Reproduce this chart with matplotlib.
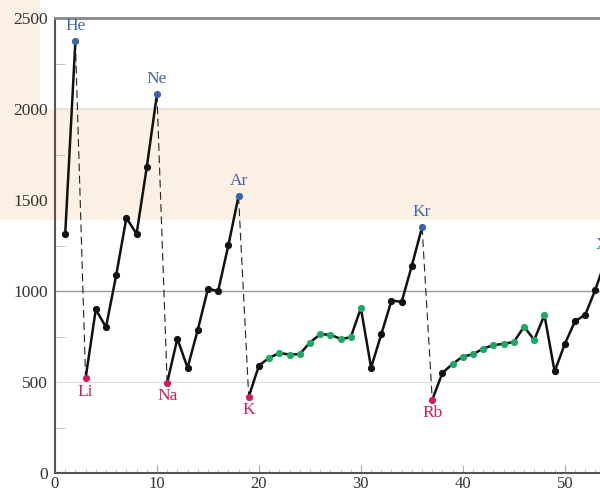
import matplotlib
matplotlib.use("Agg")
import matplotlib.pyplot as plt
from matplotlib.ticker import MultipleLocator

# first ionization energy (kJ/mol) by atomic number 1..54
atomic_number = list(range(1, 55))
energy = [1312, 2372,
          520, 899, 801, 1086, 1402, 1314, 1681, 2081,
          496, 738, 578, 786, 1012, 1000, 1251, 1521,
          419, 590, 633, 659, 651, 653, 717, 762, 760, 737, 745, 906,
          579, 762, 947, 941, 1140, 1351,
          403, 550, 600, 640, 652, 684, 702, 710, 720, 804, 731, 868,
          558, 709, 834, 869, 1008, 1170]

noble = {2: "He", 10: "Ne", 18: "Ar", 36: "Kr", 54: "Xe"}
alkali = {3: "Li", 11: "Na", 19: "K", 37: "Rb"}
transition = list(range(21, 31)) + list(range(39, 49))
periods = [(1, 2), (3, 10), (11, 18), (19, 36), (37, 54)]

yticks = [0, 500, 1000, 1500, 2000, 2500]
xticks = [0, 10, 20, 30, 40, 50]

peach = "#fcefe3"
blue = "#3d62ad"
red = "#d41c5c"
green = "#1ea866"

plt.rcParams["font.family"] = ["Liberation Serif", "DejaVu Serif"]

fig = plt.figure(figsize=(6, 4.92), dpi=100)
ax = fig.add_axes([55 / 600, 19 / 492, 545 / 600, 455 / 492])
ax.set_xlim(0, 53.45)
ax.set_ylim(0, 2500)

# shaded band and the peach strip in the left margin
ax.axhspan(1390, 2000, xmin=-0.11, xmax=1.2, color=peach, zorder=0, clip_on=False, lw=0)
ax.axhspan(2000, 2700, xmin=-0.11, xmax=-0.027, color=peach, zorder=0, clip_on=False, lw=0)
ax.axhline(2000, color="#e8ddd2", lw=1.2, zorder=0.5)
ax.axhline(1000, color="#9a9a9a", lw=1.0, zorder=0.5)
ax.axhline(500, color="#dcdcdc", lw=0.8, zorder=0.5)

z = atomic_number
e = energy
idx = {n: i for i, n in enumerate(z)}

# solid line within each period
for a, b in periods:
    xs = z[idx[a]:idx[b] + 1]
    ys = e[idx[a]:idx[b] + 1]
    ax.plot(xs, ys, color="#111111", lw=1.8, zorder=2, clip_on=False)

# dashed drop from noble gas to next alkali metal
for ng, am in [(2, 3), (10, 11), (18, 19), (36, 37)]:
    ax.plot([ng, am], [e[idx[ng]], e[idx[am]]], color="#222222", lw=0.8,
            ls=(0, (7, 4)), zorder=1.5)

# markers
for n, val in zip(z, e):
    if n in noble:
        c = blue
    elif n in alkali:
        c = red
    elif n in transition:
        c = green
    else:
        c = "#111111"
    ax.plot(n, val, "o", color=c, ms=5.2, mec="none", zorder=3, clip_on=False)

for n, name in noble.items():
    ax.annotate(name, (n, e[idx[n]]), xytext=(0, 5), textcoords="offset points",
                ha="center", va="bottom", color="#4466aa", fontsize=12.5,
                annotation_clip=False)
for n, name in alkali.items():
    ax.annotate(name, (n, e[idx[n]]), xytext=(0, -4), textcoords="offset points",
                ha="center", va="top", color="#c8205a", fontsize=12.5,
                annotation_clip=False)

ax.set_yticks(yticks)
ax.set_xticks(xticks)
ax.yaxis.set_minor_locator(MultipleLocator(250))
ax.xaxis.set_minor_locator(MultipleLocator(1))
ax.tick_params(axis="y", which="major", length=0, labelsize=12.5, pad=5, colors="#333333")
ax.tick_params(axis="y", which="minor", direction="in", length=7, color="#bbbbbb")
ax.tick_params(axis="x", which="major", direction="in", length=6, color="#aaaaaa",
               labelsize=12, pad=2.5, labelcolor="#333333")
ax.tick_params(axis="x", which="minor", direction="in", length=3, color="#bbbbbb")

ax.spines["right"].set_visible(False)
ax.spines["top"].set_color("#888888")
ax.spines["top"].set_linewidth(2)
ax.spines["left"].set_color("#555555")
ax.spines["left"].set_linewidth(1.5)
ax.spines["bottom"].set_color("#555555")
ax.spines["bottom"].set_linewidth(1.5)
ax.patch.set_alpha(0)

fig.savefig("out.png", dpi=100)
